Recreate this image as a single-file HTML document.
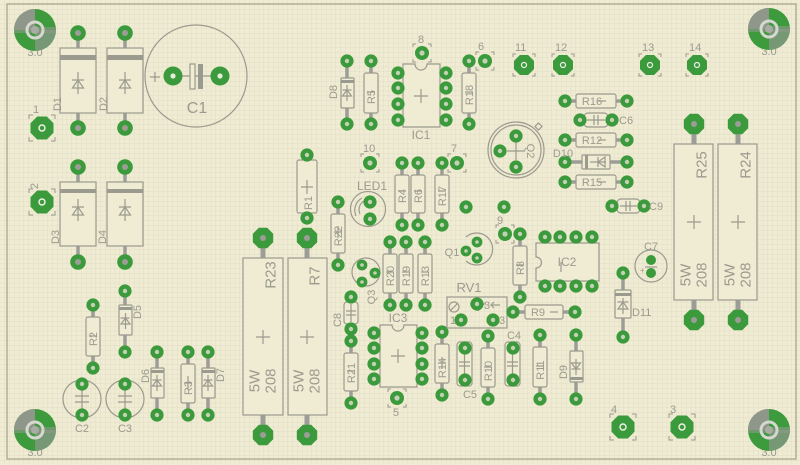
<!DOCTYPE html>
<html><head><meta charset="utf-8">
<style>
html,body{margin:0;padding:0;background:#efecd3}
svg{display:block}
.s{fill:none;stroke:#9b9a8e;stroke-width:1.2}
.b{fill:#efecd3;stroke:#9b9a8e;stroke-width:1.2}
.l{stroke:#9d9d98;stroke-width:3.5}
.t{fill:#9b9a8e;font-size:11px;font-family:"Liberation Sans",sans-serif}
.tb{fill:#9b9a8e;font-size:15px;font-family:"Liberation Sans",sans-serif}
</style></head><body>
<svg width="800" height="465" viewBox="0 0 800 465" xmlns="http://www.w3.org/2000/svg">
<defs>
<pattern id="g" width="4.8" height="4.8" patternUnits="userSpaceOnUse"><path d="M4.8 0V4.8H0" fill="none" stroke="#dcd9bf" stroke-width="0.7"/></pattern>
<g id="p"><circle r="6.6" fill="#3b9a3b"/><circle r="2.2" fill="#c3d1b5"/></g>
<g id="ps"><circle r="5.4" fill="#3b9a3b"/><circle r="1.8" fill="#c3d1b5"/></g>
<g id="pb"><circle r="7.8" fill="#3b9a3b"/><circle r="3" fill="#9d9d98"/></g>
<g id="po"><polygon points="10.2,4.2 4.2,10.2 -4.2,10.2 -10.2,4.2 -10.2,-4.2 -4.2,-10.2 4.2,-10.2 10.2,-4.2" fill="#3b9a3b"/><circle r="3" fill="#9d9d98"/></g>
<g id="P"><polygon points="11.5,4.8 4.8,11.5 -4.8,11.5 -11.5,4.8 -11.5,-4.8 -4.8,-11.5 4.8,-11.5 11.5,-4.8" fill="#3b9a3b"/><circle r="3" fill="none" stroke="#f2f2ea" stroke-width="1.4"/><path d="M-13 -9V-13H-9M9 -13H13V-9M13 9V13H9M-9 13H-13V9" fill="none" stroke="#9b9a8e" stroke-width="1"/></g>
<g id="Pm"><polygon points="10,4.1 4.1,10 -4.1,10 -10,4.1 -10,-4.1 -4.1,-10 4.1,-10 10,-4.1" fill="#3b9a3b"/><circle r="2.5" fill="none" stroke="#f2f2ea" stroke-width="1.2"/><path d="M-11 -8V-11H-8M8 -11H11V-8M11 8V11H8M-8 11H-11V8" fill="none" stroke="#9b9a8e" stroke-width="1"/></g>
<g id="Ps"><circle r="7" fill="#3b9a3b"/><circle r="2.6" fill="#c3d1b5"/><path d="M-9 -6V-9H-6M6 -9H9V-6M9 6V9H6M-6 9H-9V6" fill="none" stroke="#9b9a8e" stroke-width="1"/></g>
<g id="M"><circle r="21" fill="#3d9b3d"/><path d="M0 0H-21A21 21 0 0 1 0 -21Z" fill="#8f978b"/><path d="M0 0H21A21 21 0 0 1 0 21Z" fill="#8f978b" opacity="0.7"/><rect x="-21" y="-3" width="42" height="6" fill="#8f978b" opacity="0.6"/><circle r="8" fill="none" stroke="#d6d8cf" stroke-width="3"/><circle r="4" fill="#a9aca2"/></g>
</defs>
<rect width="800" height="465" fill="#efecd3"/>
<rect width="800" height="465" fill="url(#g)"/>
<path d="M7 4H796V459H7Z" fill="none" stroke="#b2af9a" stroke-width="1.5"/>

<!-- mounting holes -->
<text class="t" x="35" y="56" text-anchor="middle">3.0</text>
<text class="t" x="769" y="55" text-anchor="middle">3.0</text>
<text class="t" x="35" y="456" text-anchor="middle">3.0</text>
<text class="t" x="769" y="456" text-anchor="middle">3.0</text>
<use href="#M" x="35" y="30"/><use href="#M" x="769" y="29"/><use href="#M" x="35" y="430"/><use href="#M" x="769" y="430"/>

<!-- D1 D2 D3 D4 -->
<g>
<line class="l" x1="78" y1="33" x2="78" y2="128"/><line class="l" x1="125" y1="33" x2="125" y2="128"/>
<line class="l" x1="78" y1="167" x2="78" y2="262"/><line class="l" x1="125" y1="167" x2="125" y2="262"/>
<rect class="b" x="60" y="48" width="36" height="65"/><rect x="60" y="55" width="36" height="5" fill="#9b9a8e"/>
<rect class="b" x="107" y="48" width="36" height="65"/><rect x="107" y="55" width="36" height="5" fill="#9b9a8e"/>
<rect class="b" x="60" y="182" width="36" height="64"/><rect x="60" y="189" width="36" height="4" fill="#9b9a8e"/>
<rect class="b" x="107" y="182" width="36" height="64"/><rect x="107" y="189" width="36" height="4" fill="#9b9a8e"/>
<path class="s" d="M72 80h12M78 72v22M72.5 88L78 80l5.5 8z"/>
<path class="s" d="M119 80h12M125 72v22M119.5 88L125 80l5.5 8z"/>
<path class="s" d="M72 207h12M78 199v22M72.5 215L78 207l5.5 8z"/>
<path class="s" d="M119 207h12M125 199v22M119.5 215L125 207l5.5 8z"/>
<use href="#pb" x="78" y="33"/><use href="#pb" x="78" y="128"/><use href="#pb" x="125" y="33"/><use href="#pb" x="125" y="128"/>
<use href="#pb" x="78" y="167"/><use href="#pb" x="78" y="262"/><use href="#pb" x="125" y="167"/><use href="#pb" x="125" y="262"/>
<text class="t" transform="translate(58,104) rotate(-90)" text-anchor="middle" dominant-baseline="central">D1</text>
<text class="t" transform="translate(104,104) rotate(-90)" text-anchor="middle" dominant-baseline="central">D2</text>
<text class="t" transform="translate(56,237) rotate(-90)" text-anchor="middle" dominant-baseline="central">D3</text>
<text class="t" transform="translate(103,237) rotate(-90)" text-anchor="middle" dominant-baseline="central">D4</text>
</g>

<!-- C1 -->
<circle class="s" cx="196" cy="76" r="51"/>
<line x1="173" y1="76" x2="220" y2="76" stroke="#9b9a8e" stroke-width="1.2"/>
<rect class="b" x="190" y="64" width="5" height="25"/><rect x="198" y="64" width="5" height="25" fill="#9b9a8e"/>
<path class="s" d="M150 77h10M155 72v10"/>
<circle cx="173" cy="76" r="9.5" fill="#3b9a3b"/><circle cx="173" cy="76" r="2.6" fill="#e6ebdc"/>
<circle cx="220" cy="76" r="9.5" fill="#3b9a3b"/><circle cx="220" cy="76" r="2.6" fill="#e6ebdc"/>
<text x="197" y="113" text-anchor="middle" style="fill:#9b9a8e;font-size:16px;font-family:'Liberation Sans',sans-serif">C1</text>

<!-- connectors -->
<use href="#P" x="42" y="128"/><text class="t" x="33" y="113">1</text>
<use href="#P" x="42" y="202"/><text class="t" transform="translate(35,186) rotate(-90)" text-anchor="middle" dominant-baseline="central">2</text>
<use href="#Ps" x="422" y="53"/><text class="t" x="418" y="43">8</text>
<use href="#Ps" x="485" y="61"/><text class="t" x="478" y="50">6</text>
<use href="#Pm" x="524" y="65"/><text class="t" x="515" y="51">11</text>
<use href="#Pm" x="563" y="65"/><text class="t" x="555" y="51">12</text>
<use href="#Pm" x="650" y="65"/><text class="t" x="642" y="51">13</text>
<use href="#Pm" x="697" y="65"/><text class="t" x="689" y="51">14</text>
<use href="#Ps" x="370" y="163"/><text class="t" x="363" y="152">10</text>
<use href="#Ps" x="457" y="163"/><text class="t" x="451" y="152">7</text>
<use href="#Ps" x="505" y="234"/><text class="t" x="497" y="224">9</text>
<use href="#Ps" x="397" y="398"/><text class="t" x="393" y="416">5</text>
<use href="#P" x="623" y="427"/><text class="t" x="611" y="413">4</text>
<use href="#P" x="682" y="427"/><text class="t" x="670" y="413">3</text>

<!-- D5, R2, C2, C3, D6, R3, D7 -->
<line class="l" x1="125" y1="291" x2="125" y2="352"/>
<rect class="b" x="119" y="305" width="13" height="30" rx="1"/><rect x="119" y="307" width="13" height="3" fill="#9b9a8e"/>
<path class="s" d="M120.5 318h9M125.5 313v16M121 324l4.5 -6 4.5 6z"/>
<use href="#p" x="125" y="291"/><use href="#p" x="125" y="352"/>
<text class="t" transform="translate(138,312) rotate(-90)" text-anchor="middle" dominant-baseline="central">D5</text>

<line class="l" x1="93" y1="305" x2="93" y2="368"/>
<rect class="b" x="86" y="317" width="14" height="39" rx="2"/>
<path class="s" d="M89 336h8"/>
<use href="#p" x="93" y="305"/><use href="#p" x="93" y="368"/>
<text class="t" transform="translate(94,339) rotate(-90)" text-anchor="middle" dominant-baseline="central">R2</text>

<circle class="s" cx="82" cy="399" r="19"/><path class="s" d="M75 396h14M75 402h14M82 384v30"/>
<use href="#p" x="82" y="384"/><use href="#p" x="82" y="415"/>
<text class="t" x="82" y="432" text-anchor="middle">C2</text>
<circle class="s" cx="125" cy="399" r="19"/><path class="s" d="M118 396h14M118 402h14M125 384v30"/>
<use href="#p" x="125" y="384"/><use href="#p" x="125" y="415"/>
<text class="t" x="125" y="432" text-anchor="middle">C3</text>

<line class="l" x1="157" y1="352" x2="157" y2="415"/>
<rect class="b" x="151" y="368" width="13" height="30" rx="1"/><rect x="151" y="370" width="13" height="3" fill="#9b9a8e"/>
<path class="s" d="M152.5 380h9M157 375v16M152.5 386l4.5 -6 4.5 6z"/>
<use href="#p" x="157" y="352"/><use href="#p" x="157" y="415"/>
<text class="t" transform="translate(146,376) rotate(-90)" text-anchor="middle" dominant-baseline="central">D6</text>

<line class="l" x1="188" y1="352" x2="188" y2="415"/>
<rect class="b" x="181" y="364" width="14" height="39" rx="2"/>
<path class="s" d="M184 383h8M188 376v14"/>
<use href="#p" x="188" y="352"/><use href="#p" x="188" y="415"/>
<text class="t" transform="translate(189,388) rotate(-90)" text-anchor="middle" dominant-baseline="central">R3</text>

<line class="l" x1="208" y1="352" x2="208" y2="415"/>
<rect class="b" x="202" y="368" width="13" height="30" rx="1"/><rect x="202" y="370" width="13" height="3" fill="#9b9a8e"/>
<path class="s" d="M203.5 380h9M208 375v16M203.5 386l4.5 -6 4.5 6z"/>
<use href="#p" x="208" y="352"/><use href="#p" x="208" y="415"/>
<text class="t" transform="translate(221,375) rotate(-90)" text-anchor="middle" dominant-baseline="central">D7</text>

<!-- R23, R7 -->
<line class="l" x1="263" y1="238" x2="263" y2="435" style="stroke-width:5"/>
<line class="l" x1="307" y1="238" x2="307" y2="435" style="stroke-width:5"/>
<rect class="b" x="243" y="258" width="40" height="157"/>
<rect class="b" x="288" y="258" width="39" height="157"/>
<path class="s" d="M256 337h14M263 330v14M300 337h14M307 330v14"/>
<use href="#po" x="263" y="238"/><use href="#po" x="263" y="435"/><use href="#po" x="307" y="238"/><use href="#po" x="307" y="435"/>
<text class="tb" transform="translate(271,275) rotate(-90)" text-anchor="middle" dominant-baseline="central">R23</text>
<text class="tb" transform="translate(255,381) rotate(-90)" text-anchor="middle" dominant-baseline="central">5W</text>
<text class="tb" transform="translate(271,381) rotate(-90)" text-anchor="middle" dominant-baseline="central">208</text>
<text class="tb" transform="translate(315,276) rotate(-90)" text-anchor="middle" dominant-baseline="central">R7</text>
<text class="tb" transform="translate(299,381) rotate(-90)" text-anchor="middle" dominant-baseline="central">5W</text>
<text class="tb" transform="translate(315,381) rotate(-90)" text-anchor="middle" dominant-baseline="central">208</text>

<!-- R25, R24 -->
<line class="l" x1="694" y1="124" x2="694" y2="320" style="stroke-width:5"/>
<line class="l" x1="738" y1="124" x2="738" y2="320" style="stroke-width:5"/>
<rect class="b" x="674" y="144" width="39" height="156"/>
<rect class="b" x="718" y="144" width="39" height="156"/>
<path class="s" d="M687 222h14M694 215v14M731 222h14M738 215v14"/>
<use href="#po" x="694" y="124"/><use href="#po" x="694" y="320"/><use href="#po" x="738" y="124"/><use href="#po" x="738" y="320"/>
<text class="tb" transform="translate(702,165) rotate(-90)" text-anchor="middle" dominant-baseline="central">R25</text>
<text class="tb" transform="translate(686,275) rotate(-90)" text-anchor="middle" dominant-baseline="central">5W</text>
<text class="tb" transform="translate(702,275) rotate(-90)" text-anchor="middle" dominant-baseline="central">208</text>
<text class="tb" transform="translate(746,165) rotate(-90)" text-anchor="middle" dominant-baseline="central">R24</text>
<text class="tb" transform="translate(730,275) rotate(-90)" text-anchor="middle" dominant-baseline="central">5W</text>
<text class="tb" transform="translate(746,275) rotate(-90)" text-anchor="middle" dominant-baseline="central">208</text>

<!-- top: D8 R5 IC1 R18 -->
<line class="l" x1="347" y1="61" x2="347" y2="124"/>
<rect class="b" x="341" y="78" width="13" height="30" rx="1"/><rect x="341" y="80" width="13" height="3" fill="#9b9a8e"/>
<path class="s" d="M342.5 90h9M347 85v16M342.5 96l4.5 -6 4.5 6z"/>
<use href="#p" x="347" y="61"/><use href="#p" x="347" y="124"/>
<text class="t" transform="translate(334,92) rotate(-90)" text-anchor="middle" dominant-baseline="central">D8</text>

<line class="l" x1="371" y1="61" x2="371" y2="124"/>
<rect class="b" x="364" y="73" width="14" height="40" rx="2"/>
<path class="s" d="M367 92h8"/>
<use href="#p" x="371" y="61"/><use href="#p" x="371" y="124"/>
<text class="t" transform="translate(372,97) rotate(-90)" text-anchor="middle" dominant-baseline="central">R5</text>

<line class="l" x1="469" y1="61" x2="469" y2="124"/>
<rect class="b" x="462" y="73" width="14" height="40" rx="2"/>
<path class="s" d="M465 92h8"/>
<use href="#p" x="469" y="61"/><use href="#p" x="469" y="124"/>
<text class="t" transform="translate(470,95) rotate(-90)" text-anchor="middle" dominant-baseline="central">R18</text>

<path class="b" d="M403 64H415A6 6 0 0 0 427 64H440V127H403Z"/>
<path class="s" d="M414 96h14M421 89v14"/>
<use href="#p" x="398" y="73"/><use href="#p" x="398" y="88"/><use href="#p" x="398" y="104"/><use href="#p" x="398" y="120"/>
<use href="#p" x="446" y="73"/><use href="#p" x="446" y="88"/><use href="#p" x="446" y="104"/><use href="#p" x="446" y="120"/>
<text class="t" x="421" y="139" text-anchor="middle" style="font-size:12px">IC1</text>

<!-- R1 R22 LED1 -->
<line class="l" x1="307" y1="155" x2="307" y2="218"/>
<rect class="b" x="297" y="160" width="20" height="53" rx="2"/>
<path class="s" d="M301 187h12M307 180v14"/>
<use href="#p" x="307" y="155"/><use href="#p" x="307" y="218"/>
<text class="t" transform="translate(309,203) rotate(-90)" text-anchor="middle" dominant-baseline="central">R1</text>

<line class="l" x1="338" y1="202" x2="338" y2="265"/>
<rect class="b" x="331" y="214" width="14" height="39" rx="2"/>
<path class="s" d="M334 232h8M338 226v12"/>
<use href="#p" x="338" y="202"/><use href="#p" x="338" y="265"/>
<text class="t" transform="translate(339,236) rotate(-90)" text-anchor="middle" dominant-baseline="central">R22</text>

<circle class="s" cx="368" cy="209" r="17.5"/>
<path class="s" d="M356 216a14 14 0 0 1 6 -18M360 214a10 10 0 0 1 4 -13"/>
<use href="#p" x="370" y="202"/><use href="#p" x="370" y="219"/>
<text class="t" x="372" y="190" text-anchor="middle" style="font-size:12px">LED1</text>

<!-- R4 R6 R17 -->
<line class="l" x1="402" y1="163" x2="402" y2="225"/><line class="l" x1="418" y1="163" x2="418" y2="225"/><line class="l" x1="442" y1="163" x2="442" y2="225"/>
<rect class="b" x="395" y="175" width="14" height="38" rx="2"/><rect class="b" x="411" y="175" width="14" height="38" rx="2"/><rect class="b" x="435" y="175" width="14" height="38" rx="2"/>
<path class="s" d="M398 191h8M414 191h8M438 191h8"/>
<use href="#p" x="402" y="163"/><use href="#p" x="402" y="225"/><use href="#p" x="418" y="163"/><use href="#p" x="418" y="225"/><use href="#p" x="442" y="163"/><use href="#p" x="442" y="225"/>
<text class="t" transform="translate(403,196) rotate(-90)" text-anchor="middle" dominant-baseline="central">R4</text>
<text class="t" transform="translate(419,196) rotate(-90)" text-anchor="middle" dominant-baseline="central">R6</text>
<text class="t" transform="translate(443,196) rotate(-90)" text-anchor="middle" dominant-baseline="central">R17</text>

<use href="#p" x="466" y="207"/><use href="#p" x="504" y="207"/>

<!-- Q3 R20 R19 R13 -->
<circle class="s" cx="366" cy="272" r="14"/>
<use href="#ps" x="362" y="265"/><use href="#ps" x="375" y="273"/><use href="#ps" x="362" y="282"/>
<text class="t" transform="translate(372,297) rotate(-90)" text-anchor="middle" dominant-baseline="central">Q3</text>

<line class="l" x1="390" y1="242" x2="390" y2="305"/><line class="l" x1="406" y1="242" x2="406" y2="305"/><line class="l" x1="425" y1="242" x2="425" y2="305"/>
<rect class="b" x="383" y="254" width="14" height="39" rx="2"/><rect class="b" x="399" y="254" width="14" height="39" rx="2"/><rect class="b" x="418" y="254" width="14" height="39" rx="2"/>
<path class="s" d="M386 272h8M402 272h8M421 272h8"/>
<use href="#p" x="390" y="242"/><use href="#p" x="390" y="305"/><use href="#p" x="406" y="242"/><use href="#p" x="406" y="305"/><use href="#p" x="425" y="242"/><use href="#p" x="425" y="305"/>
<text class="t" transform="translate(391,276) rotate(-90)" text-anchor="middle" dominant-baseline="central">R20</text>
<text class="t" transform="translate(407,276) rotate(-90)" text-anchor="middle" dominant-baseline="central">R19</text>
<text class="t" transform="translate(426,276) rotate(-90)" text-anchor="middle" dominant-baseline="central">R13</text>

<!-- C8 R21 IC3 -->
<line class="l" x1="351" y1="297" x2="351" y2="329"/>
<rect class="b" x="344" y="302" width="14" height="22" rx="3"/>
<path class="s" d="M346 311h10M346 315h10M351 304v18"/>
<use href="#p" x="351" y="297"/><use href="#p" x="351" y="329"/>
<text class="t" transform="translate(338,320) rotate(-90)" text-anchor="middle" dominant-baseline="central">C8</text>

<line class="l" x1="351" y1="341" x2="351" y2="403"/>
<rect class="b" x="344" y="353" width="14" height="38" rx="2"/>
<path class="s" d="M347 371h8"/>
<use href="#p" x="351" y="341"/><use href="#p" x="351" y="403"/>
<text class="t" transform="translate(352,373) rotate(-90)" text-anchor="middle" dominant-baseline="central">R21</text>

<path class="b" d="M380 325H392A6 6 0 0 0 404 325H417V387H380Z"/>
<path class="s" d="M391 356h14M398 349v14"/>
<use href="#p" x="374" y="333"/><use href="#p" x="374" y="348"/><use href="#p" x="374" y="364"/><use href="#p" x="374" y="379"/>
<use href="#p" x="422" y="333"/><use href="#p" x="422" y="348"/><use href="#p" x="422" y="364"/><use href="#p" x="422" y="379"/>
<text class="t" x="398" y="322" text-anchor="middle" style="font-size:12px">IC3</text>

<!-- R14 C5 R10 C4 R11 D9 -->
<line class="l" x1="442" y1="332" x2="442" y2="395"/>
<rect class="b" x="435" y="344" width="14" height="39" rx="2"/>
<path class="s" d="M438 363h8M442 357v12"/>
<use href="#p" x="442" y="332"/><use href="#p" x="442" y="395"/>
<text class="t" transform="translate(443,368) rotate(-90)" text-anchor="middle" dominant-baseline="central">R14</text>

<rect class="b" x="457" y="342" width="15" height="44" rx="3"/>
<path class="s" d="M459 362h11M459 366h11M464.5 350v28"/>
<use href="#p" x="465" y="348"/><use href="#p" x="465" y="380"/>
<text class="t" x="470" y="398" text-anchor="middle">C5</text>

<line class="l" x1="488" y1="336" x2="488" y2="399"/>
<rect class="b" x="481" y="348" width="14" height="39" rx="2"/>
<path class="s" d="M484 367h8"/>
<use href="#p" x="488" y="336"/><use href="#p" x="488" y="399"/>
<text class="t" transform="translate(489,371) rotate(-90)" text-anchor="middle" dominant-baseline="central">R10</text>

<rect class="b" x="505" y="342" width="15" height="44" rx="3"/>
<path class="s" d="M507 362h11M507 366h11M512.5 350v28"/>
<use href="#p" x="513" y="348"/><use href="#p" x="513" y="380"/>
<text class="t" x="514" y="339" text-anchor="middle">C4</text>

<line class="l" x1="540" y1="335" x2="540" y2="399"/>
<rect class="b" x="533" y="347" width="14" height="40" rx="2"/>
<path class="s" d="M536 366h8"/>
<use href="#p" x="540" y="335"/><use href="#p" x="540" y="399"/>
<text class="t" transform="translate(541,370) rotate(-90)" text-anchor="middle" dominant-baseline="central">R11</text>

<line class="l" x1="576" y1="335" x2="576" y2="399"/>
<rect class="b" x="570" y="351" width="13" height="31" rx="1"/><rect x="570" y="377" width="13" height="3" fill="#9b9a8e"/>
<path class="s" d="M571.5 369h9M576 359v16M571.5 363l4.5 6 4.5 -6z"/>
<use href="#p" x="576" y="335"/><use href="#p" x="576" y="399"/>
<text class="t" transform="translate(564,372) rotate(-90)" text-anchor="middle" dominant-baseline="central">D9</text>

<!-- RV1 R9 -->
<rect class="s" x="447" y="297" width="60" height="31"/>
<circle class="s" cx="454" cy="307" r="5"/><path class="s" d="M450.5 310.5l7 -7"/>
<path class="s" d="M470 304h16M478 297v14M500 305h-9M494 302l-3 3 3 3"/>
<use href="#p" x="477" y="304"/><use href="#p" x="461" y="320"/><use href="#p" x="493" y="320"/>
<text class="t" x="450" y="324">1</text><text class="t" x="499" y="324">3</text><text class="t" x="484" y="309">3</text>
<text class="t" x="469" y="292" text-anchor="middle" style="font-size:13px">RV1</text>

<line class="l" x1="513" y1="312" x2="575" y2="312"/>
<rect class="b" x="525" y="305" width="38" height="14" rx="2"/>
<path class="s" d="M550 312h8"/>
<use href="#p" x="513" y="312"/><use href="#p" x="575" y="312"/>
<text class="t" x="538" y="316" text-anchor="middle">R9</text>

<!-- Q1 R8 IC2 -->
<path class="s" d="M466 237A16 16 0 1 1 466 261"/>
<use href="#ps" x="477" y="242"/><use href="#ps" x="466" y="251"/><use href="#ps" x="477" y="258"/>
<text class="t" x="452" y="256" text-anchor="middle">Q1</text>

<line class="l" x1="520" y1="234" x2="520" y2="297"/>
<rect class="b" x="513" y="246" width="14" height="39" rx="2"/>
<path class="s" d="M516 265h8"/>
<use href="#p" x="520" y="234"/><use href="#p" x="520" y="297"/>
<text class="t" transform="translate(521,268) rotate(-90)" text-anchor="middle" dominant-baseline="central">R8</text>

<path class="b" d="M536 243H599V281H536V268A5.5 5.5 0 0 0 536 257Z"/>
<use href="#p" x="545" y="237"/><use href="#p" x="560" y="237"/><use href="#p" x="576" y="237"/><use href="#p" x="592" y="237"/>
<use href="#p" x="545" y="286"/><use href="#p" x="560" y="286"/><use href="#p" x="576" y="286"/><use href="#p" x="592" y="286"/>
<text class="t" x="567" y="266" text-anchor="middle" style="font-size:12px">IC2</text>
<path class="s" d="M561 262v10"/>

<!-- C7 D11 -->
<circle class="s" cx="651" cy="266" r="16"/>
<path class="s" d="M645 267h12"/>
<circle cx="651" cy="260" r="5" fill="#3b9a3b"/><circle cx="651" cy="273" r="5" fill="#3b9a3b"/>
<text class="t" x="640" y="273" style="font-size:8px">+</text>
<text class="t" x="651" y="250" text-anchor="middle">C7</text>

<line class="l" x1="623" y1="273" x2="623" y2="337"/>
<rect class="b" x="615" y="290" width="16" height="28" rx="1"/><rect x="615" y="293" width="16" height="3" fill="#9b9a8e"/>
<path class="s" d="M617.5 302h11M623 298v16M618 309l5 -7 5 7z"/>
<use href="#p" x="623" y="273"/><use href="#p" x="623" y="337"/>
<text class="t" x="632" y="316">D11</text>

<!-- Q2 -->
<circle class="s" cx="516" cy="150" r="28"/>
<circle class="s" cx="516" cy="150" r="25"/>
<rect class="s" x="536" y="124" width="5" height="5" transform="rotate(45 538.5 126.5)"/>
<path class="s" d="M507 151h18M516 142v18"/>
<use href="#p" x="516" y="136"/><use href="#p" x="500" y="151"/><use href="#p" x="516" y="167"/>
<text class="t" transform="translate(530,151) rotate(90)" text-anchor="middle" dominant-baseline="central">Q2</text>

<!-- right column R16 C6 R12 D10 R15 C9 -->
<line class="l" x1="565" y1="101" x2="627" y2="101"/>
<rect class="b" x="576" y="94" width="40" height="14" rx="2"/>
<use href="#p" x="565" y="101"/><use href="#p" x="627" y="101"/>
<text class="t" x="592" y="105" text-anchor="middle">R16</text><path class="s" d="M598 101h8"/>

<line class="l" x1="580" y1="120" x2="612" y2="120"/>
<rect class="b" x="584" y="113" width="24" height="14" rx="4"/>
<path class="s" d="M594 115v10M598 115v10M587 120h18"/>
<use href="#p" x="580" y="120"/><use href="#p" x="612" y="120"/>
<text class="t" x="619" y="124">C6</text>

<line class="l" x1="565" y1="140" x2="627" y2="140"/>
<rect class="b" x="576" y="133" width="40" height="14" rx="2"/>
<use href="#p" x="565" y="140"/><use href="#p" x="627" y="140"/>
<text class="t" x="592" y="144" text-anchor="middle">R12</text><path class="s" d="M598 140h8"/>

<line class="l" x1="565" y1="162" x2="627" y2="162"/>
<rect class="b" x="582" y="155" width="28" height="14" rx="1"/><rect x="585" y="155" width="3" height="14" fill="#9b9a8e"/>
<path class="s" d="M598 157v10M590 162h16M605 157l-7 5 7 5z"/>
<use href="#p" x="565" y="162"/><use href="#p" x="627" y="162"/>
<text class="t" x="563" y="157" text-anchor="middle">D10</text>

<line class="l" x1="565" y1="182" x2="627" y2="182"/>
<rect class="b" x="576" y="175" width="40" height="14" rx="2"/>
<use href="#p" x="565" y="182"/><use href="#p" x="627" y="182"/>
<text class="t" x="592" y="186" text-anchor="middle">R15</text><path class="s" d="M598 182h8"/>

<line class="l" x1="612" y1="206" x2="644" y2="206"/>
<rect class="b" x="617" y="199" width="23" height="14" rx="4"/>
<path class="s" d="M626 201v10M630 201v10M620 206h17"/>
<use href="#p" x="612" y="206"/><use href="#p" x="644" y="206"/>
<text class="t" x="649" y="210">C9</text>
</svg>
</body></html>
